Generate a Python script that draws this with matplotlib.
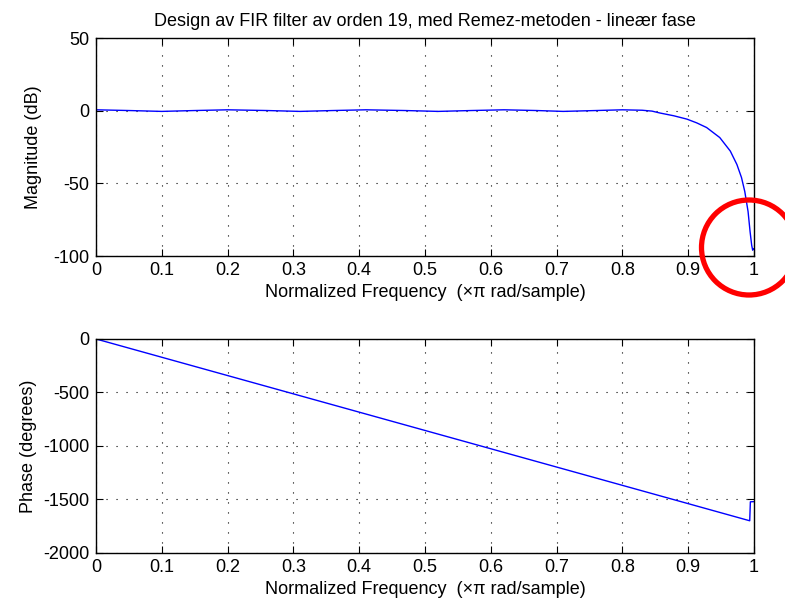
import numpy as np
import matplotlib
matplotlib.use("Agg")
import matplotlib.pyplot as plt
from matplotlib.patches import Ellipse

plt.rcParams['font.family'] = ['Liberation Sans', 'DejaVu Sans']
plt.rcParams['axes.unicode_minus'] = False

# magnitude response (dB)
mag_freq = [0.0, 0.05, 0.10, 0.15, 0.20, 0.26, 0.31, 0.36, 0.41, 0.47, 0.52,
            0.57, 0.62, 0.67, 0.71, 0.76, 0.80, 0.83, 0.845, 0.857, 0.878,
            0.898, 0.913, 0.928, 0.948, 0.964, 0.974, 0.981, 0.986, 0.991,
            0.994, 0.9965, 0.998, 0.999]
mag_db = [0.6, 0.1, -0.5, 0.1, 0.6, 0.1, -0.5, 0.1, 0.6, 0.1, -0.5,
          0.1, 0.6, 0.1, -0.5, 0.1, 0.6, 0.3, -0.3, -1.6, -3.5,
          -5.8, -8.4, -11.6, -18.5, -27.8, -37.0, -46.0, -55.6, -69.4,
          -83.0, -92.6, -96.0, -95.0]

# phase response (degrees)
ph_freq = [0.0, 0.3, 0.6, 0.9, 0.9935, 0.9945, 1.0]
ph_deg = [0.0, -513, -1026, -1539, -1699, -1522, -1520]

xticks = [0, 0.1, 0.2, 0.3, 0.4, 0.5, 0.6, 0.7, 0.8, 0.9, 1]
xlabels = ['0', '0.1', '0.2', '0.3', '0.4', '0.5', '0.6', '0.7', '0.8', '0.9', '1']

fs = 13

fig = plt.figure(figsize=(7.85, 6.09), dpi=100)
ax1 = fig.add_axes([0.1223, 0.5796, 0.8382, 0.358])
ax2 = fig.add_axes([0.1223, 0.0920, 0.8382, 0.3514])

xlab = 'Normalized Frequency  (\u00d7\u03c0 rad/sample)'

for ax in (ax1, ax2):
    ax.set_xlim(0, 1)
    ax.set_xticks(xticks)
    ax.set_xticklabels(xlabels)
    ax.grid(True, linestyle=(0, (1, 8)), color='black', linewidth=0.8)
    ax.tick_params(direction='in', top=True, right=True, labelsize=fs,
                   length=5)
    ax.tick_params(axis='x', pad=4)
    ax.tick_params(axis='y', pad=5)
    ax.set_xlabel(xlab, fontsize=fs, labelpad=4)
    for s in ax.spines.values():
        s.set_linewidth(1.0)

ax1.plot(mag_freq, mag_db, color='#0000ff', linewidth=1.0)
ax1.set_ylim(-100, 50)
ax1.set_yticks([-100, -50, 0, 50])
ax1.set_ylabel('Magnitude (dB)', fontsize=fs, labelpad=8)
ax1.set_title('Design av FIR filter av orden 19, med Remez-metoden - line\u00e6r fase',
              fontsize=fs, pad=9)

ax2.plot(ph_freq, ph_deg, color='#0000ff', linewidth=1.0)
ax2.set_ylim(-2000, 0)
ax2.set_yticks([-2000, -1500, -1000, -500, 0])
ax2.set_ylabel('Phase (degrees)', fontsize=fs, labelpad=4)

# red circle highlight
circ = Ellipse((749 / 785, 1 - 247.5 / 609), 95 / 785, 95 / 609,
               transform=fig.transFigure, fill=False, edgecolor='#ff0000',
               linewidth=3.8, clip_on=False)
fig.add_artist(circ)

fig.savefig('out.png', dpi=100)
